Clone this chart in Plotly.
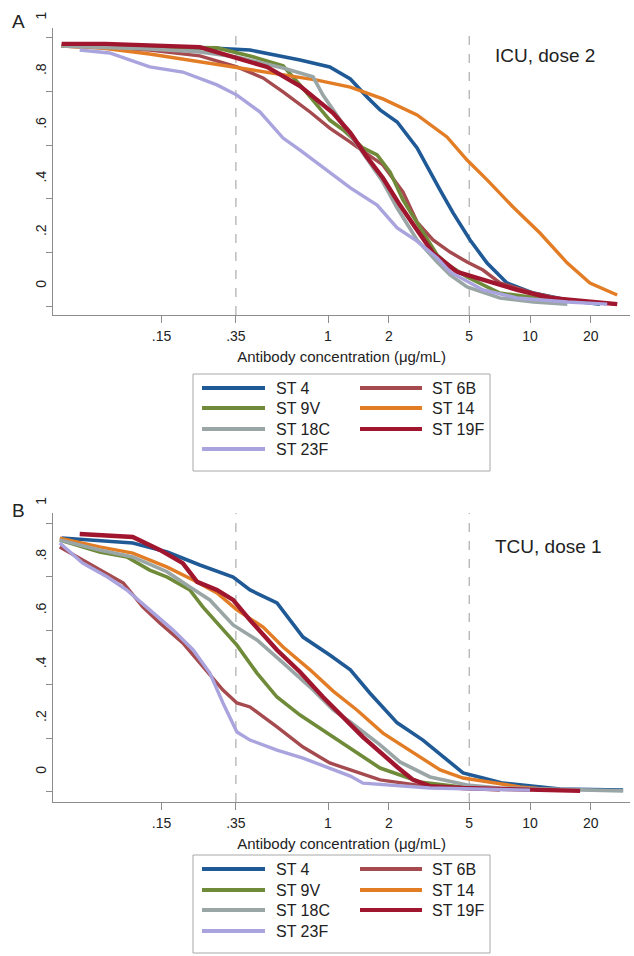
import plotly.graph_objects as go

# ---------------- data ----------------
SEROTYPES = ["ST 4", "ST 6B", "ST 9V", "ST 14", "ST 18C", "ST 19F", "ST 23F"]
COLORS = {
    "ST 4": "#1f5a96", "ST 6B": "#a54a4f", "ST 9V": "#6f8b3a", "ST 14": "#e27d26",
    "ST 18C": "#9aa6a6", "ST 19F": "#a1162f", "ST 23F": "#a9a4de",
}
WIDTHS = {"ST 4": 3.6, "ST 6B": 3.4, "ST 9V": 3.6, "ST 14": 3.4, "ST 18C": 3.6, "ST 19F": 4.4, "ST 23F": 3.4}

X_TICKS = [0.15, 0.35, 1, 2, 5, 10, 20]
X_TICKTEXT = [".15", ".35", "1", "2", "5", "10", "20"]
Y_TICKS = [0, 0.2, 0.4, 0.6, 0.8, 1]
Y_TICKTEXT = ["0", ".2", ".4", ".6", ".8", "1"]
THRESHOLDS = [0.35, 5]

# Panel A: ICU, dose 2  (concentration ug/mL, proportion >= concentration)
a_st4_x = [0.048, 0.252, 0.411, 0.727, 1.02, 1.29, 1.56, 1.81, 2.20, 2.76, 3.59, 4.16, 5.05, 6.13, 7.69, 10.4, 15.3, 22.2]
a_st4_y = [0.969, 0.962, 0.954, 0.917, 0.891, 0.846, 0.779, 0.731, 0.686, 0.589, 0.432, 0.347, 0.246, 0.160, 0.086, 0.048, 0.022, 0.007]
a_st6b_x = [0.048, 0.131, 0.232, 0.354, 0.477, 0.599, 0.815, 1.02, 1.29, 1.39, 1.87, 2.35, 2.76, 3.31, 4.02, 4.88, 5.85, 7.10, 10.4, 15.3, 27.0]
a_st6b_y = [0.969, 0.954, 0.932, 0.891, 0.850, 0.798, 0.723, 0.663, 0.611, 0.593, 0.526, 0.425, 0.313, 0.246, 0.201, 0.164, 0.134, 0.086, 0.048, 0.022, 0.007]
a_st9v_x = [0.048, 0.147, 0.282, 0.411, 0.599, 0.727, 0.815, 1.02, 1.19, 1.49, 1.75, 2.03, 2.35, 2.85, 3.47, 4.02, 4.88, 7.10, 15.3]
a_st9v_y = [0.969, 0.965, 0.962, 0.932, 0.895, 0.824, 0.779, 0.693, 0.656, 0.589, 0.563, 0.499, 0.395, 0.291, 0.190, 0.149, 0.108, 0.048, 0.015]
a_st14_x = [0.048, 0.074, 0.131, 0.339, 0.599, 0.882, 1.29, 1.87, 2.76, 3.88, 4.88, 6.13, 8.24, 11.2, 15.3, 19.8, 27.0]
a_st14_y = [0.969, 0.962, 0.939, 0.891, 0.861, 0.842, 0.816, 0.772, 0.712, 0.630, 0.544, 0.470, 0.369, 0.272, 0.160, 0.086, 0.041]
a_st18c_x = [0.048, 0.131, 0.232, 0.354, 0.599, 0.843, 0.944, 1.15, 1.29, 1.49, 1.87, 2.20, 2.76, 3.47, 4.02, 4.88, 7.10, 10.4, 15.3]
a_st18c_y = [0.969, 0.958, 0.947, 0.928, 0.887, 0.854, 0.786, 0.693, 0.637, 0.574, 0.462, 0.365, 0.246, 0.164, 0.116, 0.071, 0.030, 0.015, 0.007]
a_st19f_x = [0.048, 0.079, 0.232, 0.339, 0.499, 0.727, 1.06, 1.29, 1.56, 1.87, 2.27, 2.76, 3.31, 4.35, 5.85, 8.62, 12.6, 27.0]
a_st19f_y = [0.977, 0.977, 0.965, 0.928, 0.891, 0.820, 0.719, 0.645, 0.555, 0.477, 0.376, 0.283, 0.198, 0.127, 0.097, 0.060, 0.030, 0.007]
a_st23f_x = [0.059, 0.083, 0.131, 0.191, 0.282, 0.354, 0.461, 0.599, 0.727, 1.02, 1.29, 1.75, 2.20, 2.76, 3.47, 4.02, 5.85, 8.62, 15.3, 24.1]
a_st23f_y = [0.954, 0.943, 0.891, 0.872, 0.824, 0.786, 0.723, 0.626, 0.581, 0.499, 0.440, 0.376, 0.291, 0.242, 0.179, 0.127, 0.060, 0.030, 0.015, 0.007]

# Panel B: TCU, dose 1
b_st4_x = [0.048, 0.108, 0.160, 0.232, 0.339, 0.411, 0.559, 0.752, 1.02, 1.29, 1.61, 2.20, 2.95, 3.88, 4.66, 5.85, 7.35, 14.1, 28.9]
b_st4_y = [0.944, 0.926, 0.892, 0.844, 0.799, 0.751, 0.703, 0.576, 0.509, 0.454, 0.368, 0.257, 0.193, 0.119, 0.071, 0.052, 0.033, 0.011, 0.007]
b_st6b_x = [0.047, 0.061, 0.074, 0.097, 0.121, 0.147, 0.191, 0.240, 0.302, 0.354, 0.411, 0.559, 0.752, 1.02, 1.29, 1.81, 3.20, 7.10]
b_st6b_y = [0.911, 0.862, 0.825, 0.777, 0.688, 0.628, 0.554, 0.465, 0.379, 0.331, 0.316, 0.242, 0.167, 0.108, 0.082, 0.045, 0.019, 0.007]
b_st9v_x = [0.047, 0.074, 0.101, 0.131, 0.160, 0.207, 0.240, 0.302, 0.354, 0.445, 0.559, 0.727, 0.944, 1.29, 1.81, 2.20, 2.85, 5.05]
b_st9v_y = [0.937, 0.892, 0.874, 0.825, 0.799, 0.751, 0.688, 0.602, 0.546, 0.442, 0.353, 0.286, 0.230, 0.164, 0.089, 0.067, 0.037, 0.015]
b_st14_x = [0.047, 0.074, 0.108, 0.160, 0.215, 0.282, 0.354, 0.477, 0.599, 0.815, 1.06, 1.39, 1.87, 2.64, 3.59, 4.66, 6.87, 8.93, 13.6]
b_st14_y = [0.944, 0.911, 0.888, 0.836, 0.788, 0.740, 0.677, 0.613, 0.539, 0.454, 0.375, 0.305, 0.219, 0.145, 0.082, 0.052, 0.033, 0.019, 0.007]
b_st18c_x = [0.047, 0.074, 0.108, 0.160, 0.207, 0.260, 0.339, 0.445, 0.599, 0.815, 1.06, 1.29, 1.81, 2.27, 3.20, 4.88, 7.10, 28.9]
b_st18c_y = [0.937, 0.900, 0.874, 0.818, 0.762, 0.714, 0.621, 0.565, 0.480, 0.390, 0.305, 0.260, 0.175, 0.112, 0.056, 0.026, 0.015, 0.004]
b_st19f_x = [0.059, 0.108, 0.147, 0.191, 0.225, 0.282, 0.339, 0.411, 0.559, 0.727, 0.944, 1.29, 1.49, 2.20, 2.64, 3.20, 4.66, 17.7]
b_st19f_y = [0.959, 0.948, 0.900, 0.851, 0.781, 0.751, 0.714, 0.639, 0.528, 0.446, 0.353, 0.249, 0.204, 0.093, 0.045, 0.022, 0.015, 0.004]
b_st23f_x = [0.047, 0.061, 0.081, 0.101, 0.131, 0.171, 0.215, 0.260, 0.302, 0.354, 0.411, 0.559, 0.752, 1.02, 1.29, 1.49, 3.20, 10.0]
b_st23f_y = [0.926, 0.851, 0.799, 0.751, 0.677, 0.602, 0.528, 0.442, 0.331, 0.223, 0.193, 0.156, 0.126, 0.089, 0.059, 0.033, 0.015, 0.007]

PANEL_A = {"ST 4": (a_st4_x, a_st4_y), "ST 6B": (a_st6b_x, a_st6b_y), "ST 9V": (a_st9v_x, a_st9v_y),
           "ST 14": (a_st14_x, a_st14_y), "ST 18C": (a_st18c_x, a_st18c_y), "ST 19F": (a_st19f_x, a_st19f_y),
           "ST 23F": (a_st23f_x, a_st23f_y)}
PANEL_B = {"ST 4": (b_st4_x, b_st4_y), "ST 6B": (b_st6b_x, b_st6b_y), "ST 9V": (b_st9v_x, b_st9v_y),
           "ST 14": (b_st14_x, b_st14_y), "ST 18C": (b_st18c_x, b_st18c_y), "ST 19F": (b_st19f_x, b_st19f_y),
           "ST 23F": (b_st23f_x, b_st23f_y)}

# ---------------- layout geometry (pixels of the 634x956 page) ----------------
W, H = 634, 956
FONT = "Liberation Sans, Arial, Helvetica, sans-serif"
TXT = "#222222"
AXC = "#8c8c8c"


def px(xp):
    return xp / W


def py(yp):
    return 1 - yp / H


fig = go.Figure()

for name in SEROTYPES:
    xs, ys = PANEL_A[name]
    fig.add_trace(go.Scatter(x=xs, y=ys, mode="lines", name=name, showlegend=False,
                             line=dict(color=COLORS[name], width=WIDTHS[name]),
                             xaxis="x", yaxis="y"))
for name in SEROTYPES:
    xs, ys = PANEL_B[name]
    fig.add_trace(go.Scatter(x=xs, y=ys, mode="lines", name=name, showlegend=False,
                             line=dict(color=COLORS[name], width=WIDTHS[name]),
                             xaxis="x2", yaxis="y2"))

XDOM = [px(53), px(630)]
XRANGE = [-1.3614, 1.4950]


def xaxis(anchor):
    return dict(type="log", domain=XDOM, range=XRANGE, anchor=anchor,
                tickvals=X_TICKS, ticktext=X_TICKTEXT, ticks="outside", ticklen=7,
                tickcolor=AXC, tickwidth=1, showline=True, linecolor=AXC, linewidth=1,
                showgrid=False, zeroline=False, automargin=False, ticklabelstandoff=1,
                tickfont=dict(family=FONT, size=14, color=TXT),
                title=dict(text="Antibody concentration (μg/mL)", standoff=8,
                           font=dict(family=FONT, size=15, color=TXT)))


def yaxis(anchor, dom, rng):
    return dict(domain=dom, range=rng, anchor=anchor,
                tickvals=Y_TICKS, ticktext=Y_TICKTEXT, ticks="outside", ticklen=6,
                tickcolor=AXC, tickwidth=1, showline=True, linecolor=AXC, linewidth=1,
                showgrid=False, zeroline=False, automargin=False,
                tickangle=-90, ticklabelshift=-20, ticklabelstandoff=-6,
                tickfont=dict(family=FONT, size=14, color=TXT))


fig.update_layout(
    width=W, height=H, margin=dict(l=0, r=0, t=0, b=0),
    paper_bgcolor="white", plot_bgcolor="white", showlegend=False,
    xaxis=xaxis("y"), yaxis=yaxis("x", [py(315), py(28)], [-0.0335, 1.0361]),
    xaxis2=xaxis("y2"), yaxis2=yaxis("x2", [py(802), py(513)], [-0.0372, 1.0372]),
)

# threshold reference lines
for xr, yr in (("x", "y domain"), ("x2", "y2 domain")):
    for t in THRESHOLDS:
        fig.add_shape(type="line", xref=xr, yref=yr, x0=t, x1=t, y0=0, y1=1,
                      line=dict(color="#9a9a9a", width=1, dash="dash"), layer="below")

annotations = [
    dict(text="A", x=px(18.5), y=py(22), font=dict(size=19)),
    dict(text="B", x=px(18.5), y=py(510), font=dict(size=19)),
    dict(text="ICU, dose 2", x=px(493), y=py(55), xanchor="left", font=dict(size=19)),
    dict(text="TCU, dose 1", x=px(493), y=py(546), xanchor="left", font=dict(size=19)),
]

# legends (drawn as boxes with line keys)
LEG_COL_LINE = [(202, 265), (360, 422)]
LEG_COL_TEXT = [274, 430]
LEG_ORDER = [("ST 4", 0, 0), ("ST 6B", 1, 0), ("ST 9V", 0, 1), ("ST 14", 1, 1),
             ("ST 18C", 0, 2), ("ST 19F", 1, 2), ("ST 23F", 0, 3)]
for box, rows in (((193, 374, 490, 471), [388, 408, 429, 449]),
                  ((193, 855, 490, 953), [869, 890, 910, 931])):
    fig.add_shape(type="rect", xref="paper", yref="paper", x0=px(box[0]), x1=px(box[2]),
                  y0=py(box[3]), y1=py(box[1]), line=dict(color="#a8a8a8", width=1),
                  fillcolor="white", layer="below")
    for name, col, row in LEG_ORDER:
        l0, l1 = LEG_COL_LINE[col]
        fig.add_shape(type="line", xref="paper", yref="paper", x0=px(l0), x1=px(l1),
                      y0=py(rows[row]), y1=py(rows[row]),
                      line=dict(color=COLORS[name], width=4))
        annotations.append(dict(text=name, x=px(LEG_COL_TEXT[col]), y=py(rows[row]),
                                xanchor="left", font=dict(size=16)))

for a in annotations:
    a.setdefault("xanchor", "center")
    a.update(xref="paper", yref="paper", yanchor="middle", showarrow=False)
    a["font"].update(family=FONT, color=TXT)
fig.update_layout(annotations=annotations)

fig.write_html("out.html", config={"displayModeBar": False},
               post_script="document.body.style.margin='0px';")
